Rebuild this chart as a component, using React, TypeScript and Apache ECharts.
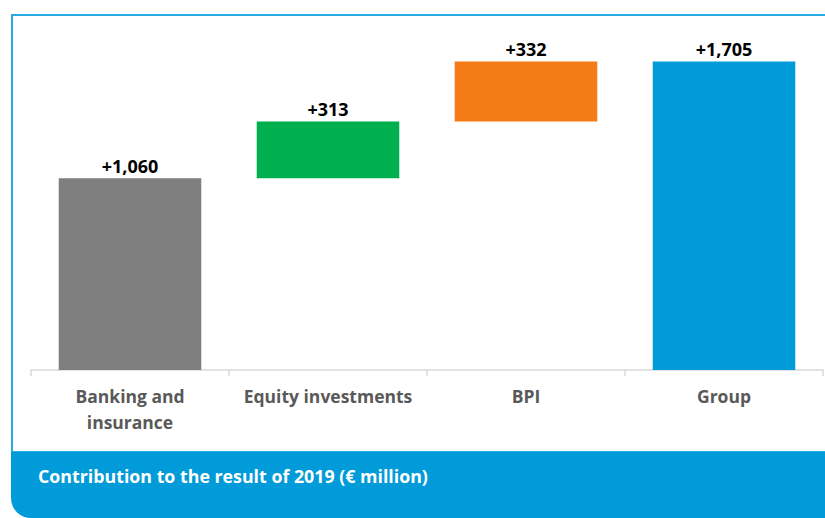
import React, { useEffect, useRef } from "react";
import * as echarts from "echarts";

const categories = ["Banking and\ninsurance", "Equity investments", "BPI", "Group"];
const baseValues = [0, 1060, 1373, 0];
const contributionValues = [1060, 313, 332, 1705];
const barColors = ["#7F7F7F", "#00B050", "#F57B16", "#009BD8"];
const valueLabels = ["+1,060", "+313", "+332", "+1,705"];
const bannerTitle = "Contribution to the result of 2019 (€ million)";

export default function App() {
  const ref = useRef<HTMLDivElement>(null);
  useEffect(() => {
    document.body.style.margin = "0";
    const chart = echarts.init(ref.current!, null, { renderer: "svg" });
    const font = "'Open Sans', Lato, sans-serif";
    chart.setOption({
      animation: false,
      backgroundColor: "#ffffff",
      grid: { left: 31, right: 2, top: 8, bottom: 148, containLabel: false },
      xAxis: {
        type: "category",
        data: categories,
        axisLine: { lineStyle: { color: "#D9D9D9", width: 1.5 } },
        axisTick: { show: true, length: 6, interval: 0, lineStyle: { color: "#D9D9D9", width: 1.5 } },
        axisLabel: {
          interval: 0,
          margin: 13,
          color: "#595959",
          fontFamily: font,
          fontWeight: "bold",
          fontSize: 17.5,
          lineHeight: 26,
        },
      },
      yAxis: {
        type: "value",
        min: 0,
        max: 2000,
        show: false,
        splitLine: { show: false },
      },
      series: [
        {
          type: "bar",
          stack: "wf",
          data: baseValues,
          itemStyle: { color: "transparent" },
          barWidth: "72%",
          silent: true,
        },
        {
          type: "bar",
          stack: "wf",
          barWidth: "72%",
          data: contributionValues.map((v, i) => ({ value: v, itemStyle: { color: barColors[i] } })),
          label: {
            show: true,
            position: "top",
            distance: 3,
            color: "#000000",
            fontFamily: font,
            fontWeight: "bold",
            fontSize: 18,
            formatter: (p: any) => valueLabels[p.dataIndex],
          },
        },
      ],
      graphic: [
        {
          type: "rect",
          shape: { x: 12, y: 15, width: 830, height: 437 },
          style: { fill: "none", stroke: "#29ABE2", lineWidth: 2 },
          z: 1,
        },
        {
          type: "rect",
          shape: { x: 11, y: 452, width: 830, height: 66, r: [0, 0, 0, 20] },
          style: { fill: "#009BD8" },
          z: 2,
        },
        {
          type: "text",
          x: 38,
          y: 476,
          style: {
            text: bannerTitle,
            fill: "#ffffff",
            font: `bold 17.8px ${font}`,
            verticalAlign: "middle",
            align: "left",
          },
          z: 3,
        },
      ],
    });
    return () => chart.dispose();
  }, []);
  return <div ref={ref} style={{ width: 825, height: 518 }} />;
}
